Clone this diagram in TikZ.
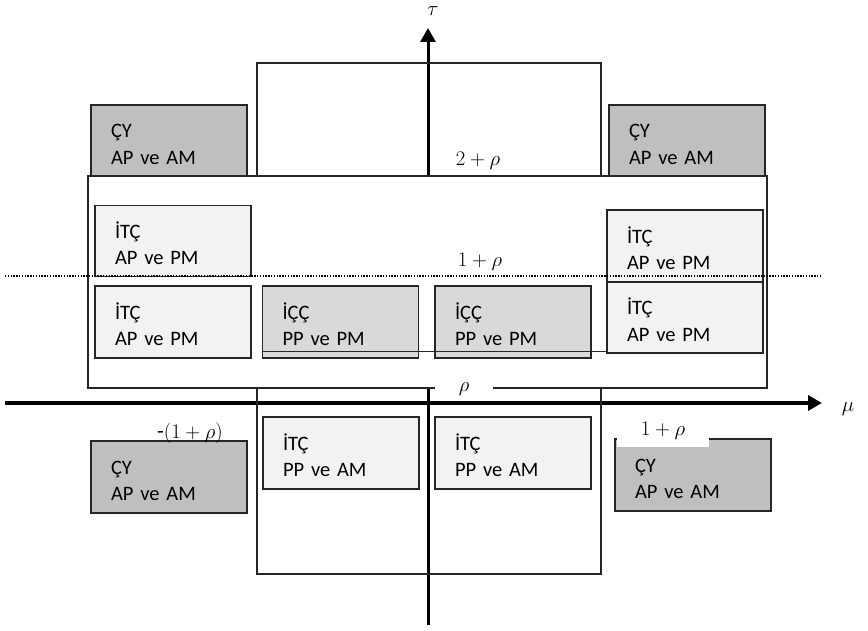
\documentclass[tikz,border=0pt]{standalone}
\usepackage{fontspec}
\setmainfont{Carlito}
\usetikzlibrary{arrows.meta,calc}
\definecolor{cyfill}{HTML}{BFBFBF}
\definecolor{itcfill}{HTML}{F2F2F2}
\definecolor{iccfill}{HTML}{D9D9D9}
\begin{document}
\begin{tikzpicture}[x=1pt,y=-1pt,
  box/.style={draw=black!85,line width=1.4pt,minimum width=156pt,minimum height=71pt,
    inner xsep=20pt,inner ysep=0pt,text width=116pt,align=left,
    font=\fontsize{20.5}{26.5}\selectfont,execute at begin node={\rule{0pt}{21pt}}},
  cybox/.style={box,fill=cyfill},
  itcbox/.style={box,fill=itcfill},
  iccbox/.style={box,fill=iccfill},
  frame/.style={draw=black!85,line width=1.3pt},
  axis/.style={line width=#1,-{Triangle[width=15pt,length=14pt]}},
  mlabel/.style={font=\fontsize{22}{26}\selectfont,inner sep=1pt}
]
\useasboundingbox (0,0) rectangle (868,631);
% axes
\coordinate (xs) at (5,403);
\coordinate (xe) at (822,403);
\coordinate (ys) at (428,625);
\coordinate (ye) at (428,28);
\draw[axis=4pt] (xs) -- (xe);
\draw[axis=3pt] (ys) -- (ye);
% frames
\coordinate (tallA) at (257,63);
\coordinate (tallB) at (601,574);
\draw[frame] (tallA) rectangle (tallB);
\coordinate (wideA) at (88,176);
\coordinate (wideB) at (767,388);
\draw[frame,fill=white] (wideA) rectangle (wideB);
% boxes
\node[cybox] (cyTL) at (169,140.5) {ÇY\\AP ve AM};
\node[cybox] (cyTR) at (687,140.5) {ÇY\\AP ve AM};
\node[itcbox] (itcL1) at (173,241) {İTÇ\\AP ve PM};
\node[itcbox,minimum height=72pt] (itcL2) at (173,322) {İTÇ\\AP ve PM};
\node[iccbox,minimum height=72pt,minimum width=155pt] (iccL) at (340.5,322) {İÇÇ\\PP ve PM};
\node[iccbox,minimum height=72pt] (iccR) at (513,322) {İÇÇ\\PP ve PM};
\node[itcbox,minimum height=72pt] (itcR1) at (685,246) {İTÇ\\AP ve PM};
\node[itcbox] (itcR2) at (685,317.5) {İTÇ\\AP ve PM};
\node[itcbox,minimum height=72pt] (itcB1) at (341,453) {İTÇ\\PP ve AM};
\node[itcbox,minimum height=72pt] (itcB2) at (513,453) {İTÇ\\PP ve AM};
\node[cybox,minimum height=72pt] (cyBL) at (169,477) {ÇY\\AP ve AM};
\node[cybox,minimum height=72pt] (cyBR) at (693,475) {ÇY\\AP ve AM};
% line through the İÇÇ boxes
\coordinate (lineA) at ($(iccL.south west)+(0,-7)$);
\draw[draw=black!85,line width=1.3pt] (lineA) -- (lineA -| itcR2.west);
% dotted line
\coordinate (dotA) at (5,276);
\coordinate (dotB) at (820,276);
\draw[line width=1.3pt,dash pattern=on 1.3pt off 1.5pt] (dotA) -- (dotB);
% labels
\node[mlabel] (tau) at (433,11) {$\tau$};
\node[mlabel] (mu) at (848,409) {$\mu$};
\node[mlabel] (l2r) at (478,161) {$2+\rho$};
\node[mlabel] (l1r) at (480,262) {$1+\rho$};
\node[mlabel,fill=white,minimum width=58pt] (lr) at (464,389) {$\rho$};
\node[mlabel] (lm1r) at (190,433) {-$(1+\rho)$};
\node[mlabel,fill=white,minimum width=92pt,minimum height=32pt] (lp1r) at (663,431) {$1+\rho$};
\end{tikzpicture}
\end{document}
